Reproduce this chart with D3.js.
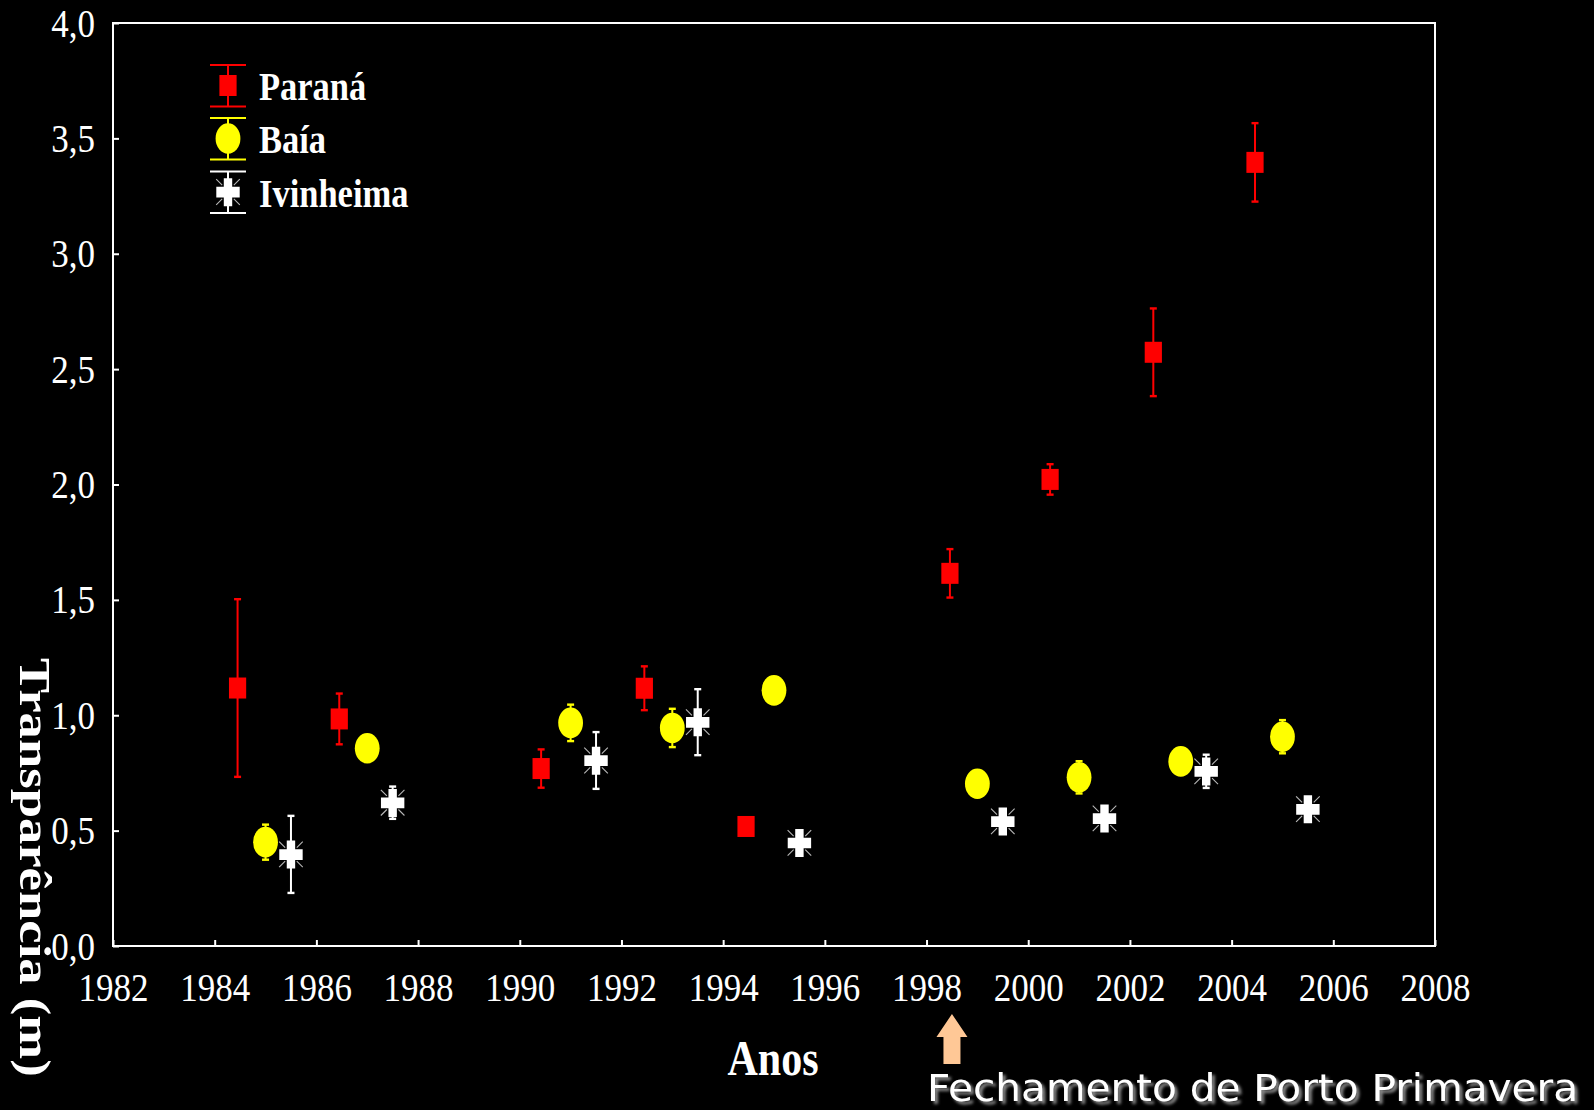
<!DOCTYPE html>
<html>
<head>
<meta charset="utf-8">
<script src="https://cdn.jsdelivr.net/npm/d3@7"></script>
<style>
  html, body { margin: 0; padding: 0; background: #000; }
  svg { display: block; }
</style>
</head>
<body>
<svg id="chart" width="1594" height="1110"></svg>
<script>
// ---- data -------------------------------------------------------------
const xTicks = [1982, 1984, 1986, 1988, 1990, 1992, 1994, 1996, 1998, 2000, 2002, 2004, 2006, 2008];
const yTicks = [0, 0.5, 1.0, 1.5, 2.0, 2.5, 3.0, 3.5, 4.0];

// Paraná (mean ± error), plotted slightly before each sampling year
const paranaYear = [1984.45, 1986.45, 1990.42, 1992.45, 1994.45, 1998.46, 2000.43, 2002.46, 2004.46];
const paranaMean = [1.118, 0.984, 0.769, 1.117, 0.518, 1.615, 2.022, 2.573, 3.396];
const paranaErr  = [0.385, 0.110, 0.083, 0.095, 0.030, 0.105, 0.066, 0.190, 0.170];

// Baía
const baiaYear = [1985, 1987, 1991, 1993, 1995, 1999, 2001, 2003, 2005];
const baiaMean = [0.450, 0.857, 0.967, 0.945, 1.108, 0.703, 0.731, 0.800, 0.907];
const baiaErr  = [0.076, 0.040, 0.079, 0.083, 0.030, 0.040, 0.070, 0.050, 0.072];

// Ivinheima
const ivinYear = [1985.5, 1987.5, 1991.5, 1993.5, 1995.5, 1999.5, 2001.5, 2003.5, 2005.5];
const ivinMean = [0.397, 0.621, 0.804, 0.970, 0.447, 0.540, 0.553, 0.757, 0.593];
const ivinErr  = [0.167, 0.070, 0.123, 0.143, 0.030, 0.030, 0.030, 0.072, 0.030];

const seriesNames = ["Paraná", "Baía", "Ivinheima"];
const closingYear = 1998.5;
const closingLabel = "Fechamento de Porto Primavera";

// ---- layout -----------------------------------------------------------
const svg = d3.select("#chart");
const x = d3.scaleLinear().domain([1982, 2008]).range([113, 1435]);
const y = d3.scaleLinear().domain([0, 4]).range([946, 23]);
const STRETCH = 1.17;              // tall, narrow lettering
const serif = "'Liberation Serif','Times New Roman',serif";
const fmt = d3.formatLocale({decimal: ",", thousands: ".", grouping: [3], currency: ["", ""]}).format(".1f");

svg.append("rect").attr("width", 1594).attr("height", 1110).attr("fill", "#000");

const defs = svg.append("defs");
const shadow = defs.append("filter").attr("id", "shadow")
  .attr("x", "-5%").attr("y", "-30%").attr("width", "110%").attr("height", "160%");
shadow.append("feGaussianBlur").attr("in", "SourceAlpha").attr("stdDeviation", 1.6).attr("result", "b");
shadow.append("feOffset").attr("in", "b").attr("dx", 2.5).attr("dy", 2.5).attr("result", "o");
shadow.append("feFlood").attr("flood-color", "#8a8a8a").attr("result", "c");
shadow.append("feComposite").attr("in", "c").attr("in2", "o").attr("operator", "in").attr("result", "s");
const merge = shadow.append("feMerge");
merge.append("feMergeNode").attr("in", "s");
merge.append("feMergeNode").attr("in", "SourceGraphic");

// ---- axes -------------------------------------------------------------
const gy = svg.append("g").attr("transform", `translate(${x.range()[0]},0)`)
  .call(d3.axisLeft(y).tickValues(yTicks).tickFormat(fmt).tickSizeInner(-6).tickSizeOuter(0).tickPadding(18));
gy.select(".domain").remove();
gy.selectAll(".tick line").attr("stroke", "#fff").attr("stroke-width", 2);
gy.selectAll(".tick text")
  .attr("fill", "#fff").attr("font-family", serif).attr("font-size", 35)
  .attr("transform", `scale(1,${STRETCH})`);

const gx = svg.append("g").attr("transform", `translate(0,${y.range()[0]})`)
  .call(d3.axisBottom(x).tickValues(xTicks).tickFormat(d3.format("d")).tickSizeInner(-6).tickSizeOuter(0));
gx.select(".domain").remove();
gx.selectAll(".tick line").attr("stroke", "#fff").attr("stroke-width", 2);
gx.selectAll(".tick text")
  .attr("fill", "#fff").attr("font-family", serif).attr("font-size", 35)
  .attr("y", 0).attr("dy", 0)
  .attr("transform", `translate(0,55) scale(1,${STRETCH})`);

// plot frame
svg.append("rect")
  .attr("x", x(1982)).attr("y", y(4))
  .attr("width", x(2008) - x(1982)).attr("height", y(0) - y(4))
  .attr("fill", "none").attr("stroke", "#fff").attr("stroke-width", 2);

// ---- marker shapes ----------------------------------------------------
function drawSquare(g, color) {
  g.append("rect").attr("x", -8.6).attr("y", -10.5).attr("width", 17.2).attr("height", 21)
    .attr("fill", color);
}
function drawEllipse(g, color) {
  g.append("ellipse").attr("rx", 12.4).attr("ry", 15.3).attr("fill", color);
}
function drawCross(g, color) {
  const rays = [[-1, -1], [1, -1], [-1, 1], [1, 1]];
  rays.forEach(([sx, sy]) => {
    g.append("line")
      .attr("x1", sx * 5.8).attr("y1", sy * 6.8)
      .attr("x2", sx * 11.8).attr("y2", sy * 12.8)
      .attr("stroke", "#b8b8b8").attr("stroke-width", 1.1);
  });
  g.append("path")
    .attr("d", "M-4.2,-13.8 H4.2 V-5.2 H11.7 V5.5 H4.2 V14.2 H-4.2 V5.5 H-11.7 V-5.2 H-4.2 Z")
    .attr("fill", color);
}

const series = [
  {name: seriesNames[0], color: "#ff0000", year: paranaYear, mean: paranaMean, err: paranaErr, shape: drawSquare},
  {name: seriesNames[1], color: "#ffff00", year: baiaYear,   mean: baiaMean,   err: baiaErr,   shape: drawEllipse},
  {name: seriesNames[2], color: "#ffffff", year: ivinYear,   mean: ivinMean,   err: ivinErr,   shape: drawCross}
];

// ---- error bars and points --------------------------------------------
series.forEach(s => {
  const rows = s.year.map((yr, i) => ({yr, m: s.mean[i], e: s.err[i]}));
  const g = svg.append("g");
  const bars = g.selectAll("g.bar").data(rows).join("g").attr("class", "bar")
    .attr("transform", d => `translate(${x(d.yr)},0)`);
  bars.append("line")
    .attr("y1", d => y(d.m - d.e)).attr("y2", d => y(d.m + d.e))
    .attr("stroke", s.color).attr("stroke-width", 2);
  bars.append("line").attr("x1", -3.5).attr("x2", 3.5)
    .attr("y1", d => y(d.m + d.e)).attr("y2", d => y(d.m + d.e))
    .attr("stroke", s.color).attr("stroke-width", 2.4);
  bars.append("line").attr("x1", -3.5).attr("x2", 3.5)
    .attr("y1", d => y(d.m - d.e)).attr("y2", d => y(d.m - d.e))
    .attr("stroke", s.color).attr("stroke-width", 2.4);
  g.selectAll("g.pt").data(rows).join("g").attr("class", "pt")
    .attr("transform", d => `translate(${x(d.yr)},${y(d.m)})`)
    .each(function () { s.shape(d3.select(this), s.color); });
});

// ---- legend -----------------------------------------------------------
const legendRows = [100, 153, 206.5];
series.forEach((s, i) => {
  const cy = legendRows[i] - 14.5;
  const g = svg.append("g").attr("transform", `translate(228,${cy})`);
  g.append("line").attr("y1", -20.5).attr("y2", 21).attr("stroke", s.color).attr("stroke-width", 2);
  g.append("line").attr("x1", -18).attr("x2", 18).attr("y1", -20.5).attr("y2", -20.5).attr("stroke", s.color).attr("stroke-width", 2.2);
  g.append("line").attr("x1", -18).attr("x2", 18).attr("y1", 21).attr("y2", 21).attr("stroke", s.color).attr("stroke-width", 2.2);
  s.shape(g, s.color);
  svg.append("text")
    .attr("transform", `translate(259,${legendRows[i]}) scale(1,${STRETCH})`)
    .attr("font-family", serif).attr("font-weight", "bold").attr("font-size", 34.5)
    .attr("fill", "#fff").text(s.name);
});

// ---- axis titles ------------------------------------------------------
svg.append("text")
  .attr("transform", `translate(${(x(1982) + x(2008)) / 2 + -1},1074.5) scale(1,1.19)`)
  .attr("text-anchor", "middle")
  .attr("font-family", serif).attr("font-weight", "bold").attr("font-size", 42)
  .attr("fill", "#fff").text("Anos");

svg.append("text")
  .attr("transform", `translate(20,658) rotate(90) scale(${STRETCH},1)`)
  .attr("font-family", serif).attr("font-weight", "bold").attr("font-size", 45)
  .attr("fill", "#fff").text("Transparência (m)");

// ---- closing annotation -----------------------------------------------
const ax = x(closingYear);
svg.append("path")
  .attr("d", `M${ax},1014 L${ax + 15.5},1037 L${ax + 8.5},1037 L${ax + 8.5},1064 L${ax - 8.5},1064 L${ax - 8.5},1037 L${ax - 15.5},1037 Z`)
  .attr("fill", "#ffc896");

svg.append("text")
  .attr("x", 927).attr("y", 1101)
  .attr("font-family", "'DejaVu Sans',Verdana,sans-serif").attr("font-size", 37)
  .attr("textLength", 651).attr("lengthAdjust", "spacingAndGlyphs")
  .attr("fill", "#fff").attr("filter", "url(#shadow)")
  .text(closingLabel);
</script>
</body>
</html>
